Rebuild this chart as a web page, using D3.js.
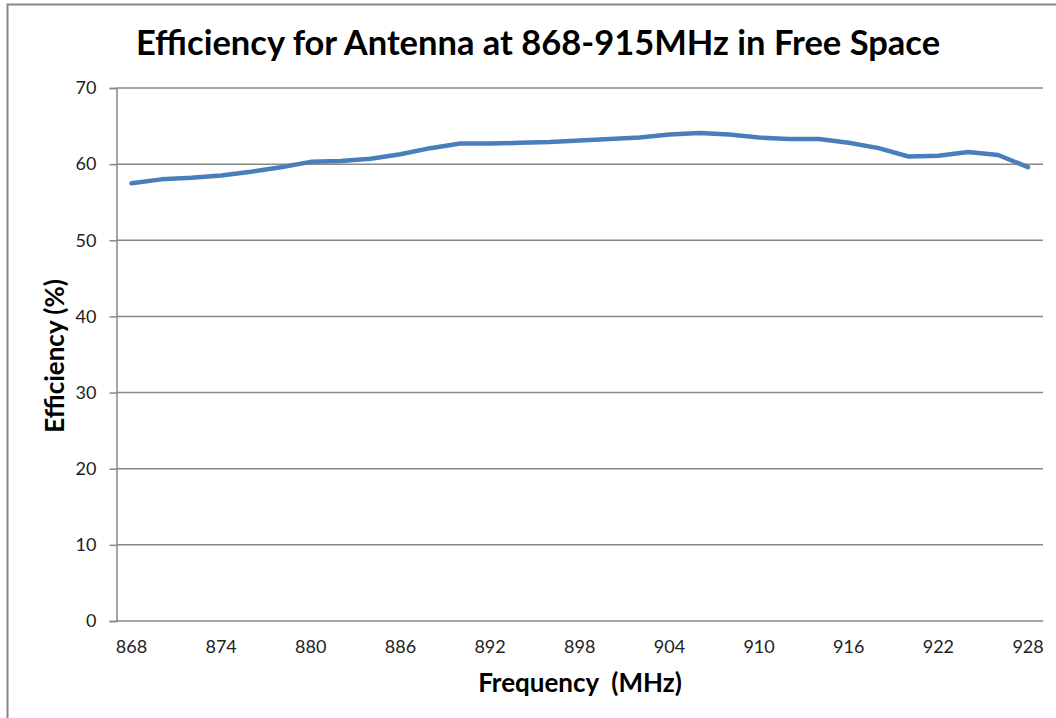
<!DOCTYPE html>
<html><head><meta charset="utf-8">
<script src="https://cdn.jsdelivr.net/npm/d3@7"></script>
<style>body{margin:0;background:#fff;} svg{display:block;}</style>
</head><body>
<svg id="c" width="1056" height="718"></svg>
<script>
const frequencies = [868,870,872,874,876,878,880,882,884,886,888,890,892,894,896,898,900,902,904,906,908,910,912,914,916,918,920,922,924,926,928];
const efficiency = [57.5,58.0,58.2,58.5,59.0,59.6,60.3,60.4,60.7,61.3,62.1,62.7,62.7,62.8,62.9,63.1,63.3,63.5,63.9,64.1,63.9,63.5,63.3,63.3,62.8,62.1,61.0,61.1,61.6,61.2,59.6];
const xTickLabels = [868,874,880,886,892,898,904,910,916,922,928];
const yTicks = [0,10,20,30,40,50,60,70];

const svg = d3.select("#c");
const font = "Lato, 'Open Sans', sans-serif";
const m = {left:116.5, right:1043, top:88, bottom:621};

svg.append("rect").attr("x",7.5).attr("y",4.5).attr("width",1100).attr("height",800)
  .attr("fill","#fff").attr("stroke","#888").attr("stroke-width",2);

const x = d3.scaleBand().domain(frequencies).range([m.left, m.right]);
const y = d3.scaleLinear().domain([0,70]).range([m.bottom, m.top]);

// gridlines
svg.append("g").selectAll("line").data(yTicks.filter(d=>d>0)).join("line")
  .attr("x1",m.left).attr("x2",m.right).attr("y1",d=>y(d)).attr("y2",d=>y(d))
  .attr("stroke","#888").attr("stroke-width",1.5);

// y axis
const ya = svg.append("g").attr("transform",`translate(${m.left},0)`)
  .call(d3.axisLeft(y).tickValues(yTicks).tickSize(7).tickPadding(13));
ya.select(".domain").attr("stroke","#888").attr("stroke-width",1.5);
ya.selectAll(".tick line").attr("stroke","#888").attr("stroke-width",1.5);
ya.selectAll("text").attr("font-family",font).attr("font-size",18).attr("fill","#222");

// x axis
const xa = svg.append("g").attr("transform",`translate(0,${m.bottom})`)
  .call(d3.axisBottom(x).tickValues(xTickLabels).tickSize(0).tickPadding(19));
xa.select(".domain").attr("stroke","#888").attr("stroke-width",1.5).attr("d",`M${m.left},0H${m.right}`);
xa.selectAll("text").attr("font-family",font).attr("font-size",18).attr("fill","#222");

// line
const line = d3.line().x((d,i)=>x(frequencies[i])+x.bandwidth()/2).y(d=>y(d));
svg.append("path").datum(efficiency).attr("d",line).attr("fill","none")
  .attr("stroke","#4a7ebb").attr("stroke-width",4.5).attr("stroke-linejoin","round").attr("stroke-linecap","round");

// titles
svg.append("text").attr("x",538).attr("y",55).attr("text-anchor","middle")
  .attr("font-family",font).attr("font-weight","bold").attr("font-size",34.5).attr("fill","#000")
  .text("Efficiency for Antenna at 868-915MHz in Free Space");
svg.append("text").attr("x",580).attr("y",692).attr("text-anchor","middle")
  .attr("font-family",font).attr("font-weight","bold").attr("font-size",26).attr("fill","#000")
  .attr("xml:space","preserve").text("Frequency  (MHz)");
svg.append("text").attr("transform","translate(64,356) rotate(-90)").attr("text-anchor","middle")
  .attr("font-family",font).attr("font-weight","bold").attr("font-size",26).attr("fill","#000")
  .text("Efficiency (%)");
</script>
</body></html>
